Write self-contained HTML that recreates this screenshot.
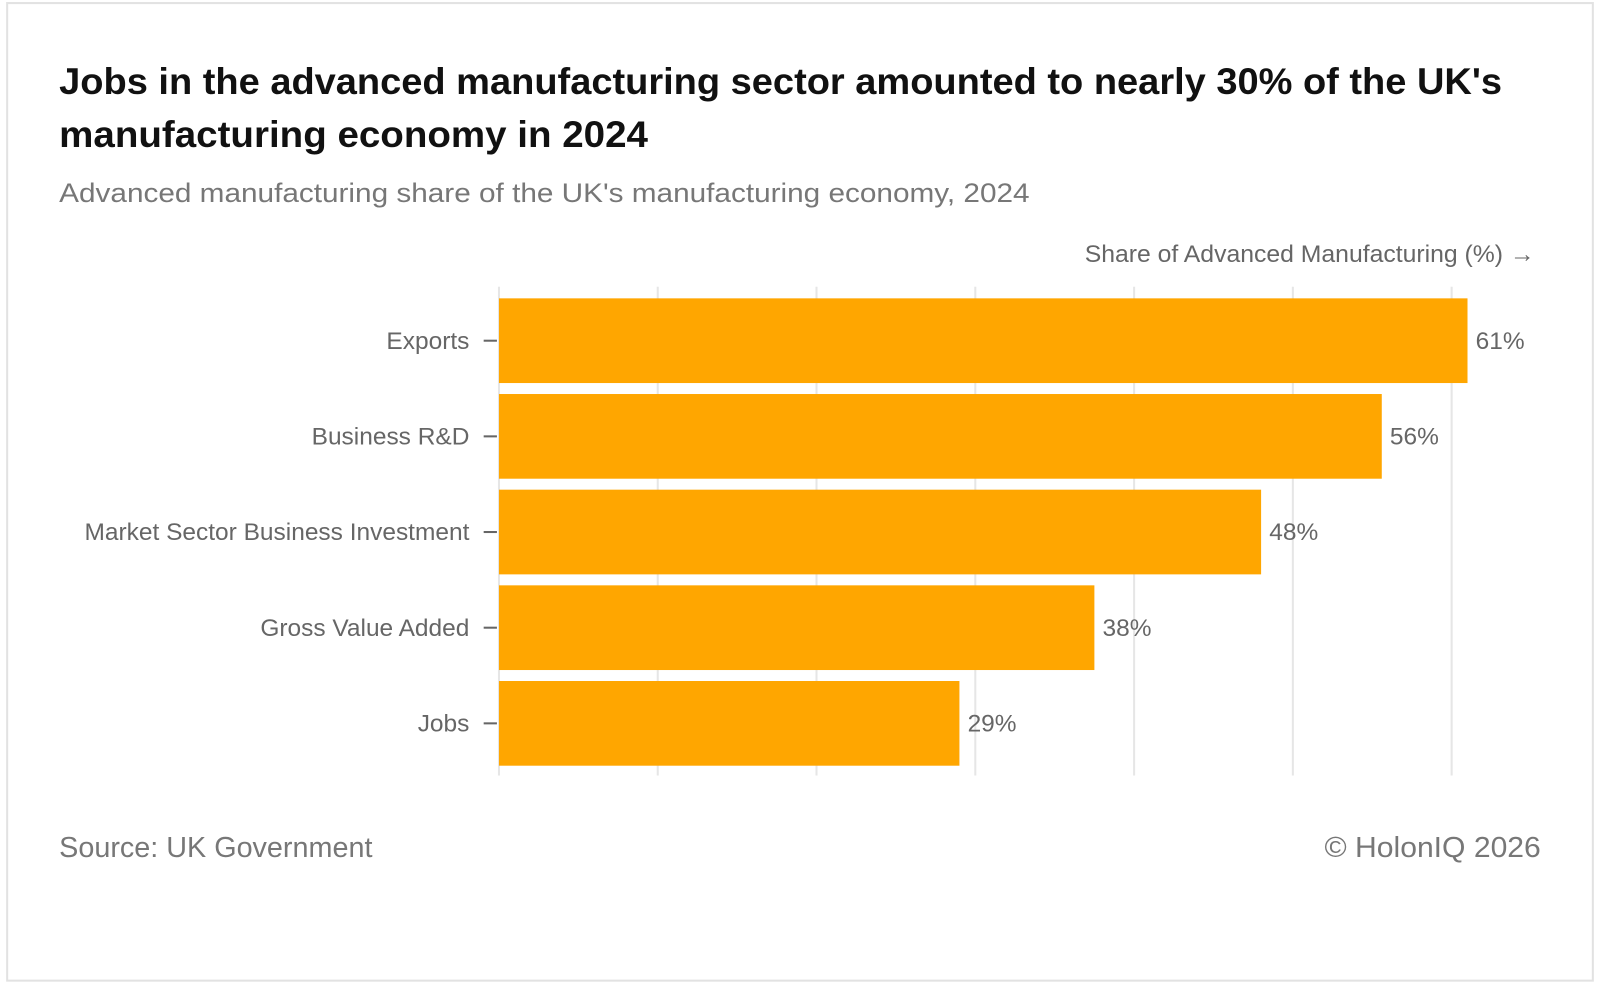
<!DOCTYPE html>
<html><head><meta charset="utf-8"><style>
html,body{margin:0;padding:0;background:#fff;}
svg{display:block;font-family:"Liberation Sans",sans-serif;}
</style></head><body>
<svg id="chart" width="1600" height="984" viewBox="0 0 1568 964.3" xmlns="http://www.w3.org/2000/svg">
<rect x="7" y="3" width="1554" height="958" fill="#fff" stroke="#e2e2e2" stroke-width="2"/>
<text x="58" y="92" font-size="36" font-weight="bold" fill="#111" textLength="1414" lengthAdjust="spacingAndGlyphs">Jobs in the advanced manufacturing sector amounted to nearly 30% of the UK's</text>
<text x="58" y="144" font-size="36" font-weight="bold" fill="#111" textLength="577" lengthAdjust="spacingAndGlyphs">manufacturing economy in 2024</text>
<text x="58" y="198" font-size="26" fill="#777" textLength="951" lengthAdjust="spacingAndGlyphs">Advanced manufacturing share of the UK's manufacturing economy, 2024</text>
<text x="1504" y="257" font-size="24" fill="#666" text-anchor="end" textLength="441" lengthAdjust="spacingAndGlyphs">Share of Advanced Manufacturing (%) →</text>
<g id="grid"></g>
<g id="bars"></g>
<text x="58" y="840" font-size="28" fill="#777" textLength="307" lengthAdjust="spacingAndGlyphs">Source: UK Government</text>
<text x="1510" y="840" font-size="28" fill="#777" text-anchor="end" textLength="212" lengthAdjust="spacingAndGlyphs">© HolonIQ 2026</text>
</svg>
<script>
const categories = ["Exports","Business R&D","Market Sector Business Investment","Gross Value Added","Jobs"];
const values = [61,55.6,48,37.5,29];
const valueLabels = ["61%","56%","48%","38%","29%"];
const gridTicks = [0,10,20,30,40,50,60];
const NS="http://www.w3.org/2000/svg";
const x0=489, pxPer=15.56, bandTop=287, step=93.75, barH=83;
function xs(v){return x0+v*pxPer;}
function ys(i){return bandTop+i*step+(step-barH)/2;}
function mk(tag,attrs,parent){const e=document.createElementNS(NS,tag);for(const k in attrs)e.setAttribute(k,attrs[k]);parent.appendChild(e);return e;}
const grid=document.getElementById('grid'), bars=document.getElementById('bars');
gridTicks.forEach(t=>{
  const l=mk('line',{x1:xs(t),x2:xs(t),y1:281,y2:760,stroke:'#e6e6e6','stroke-width':2},grid);
  
  
});
categories.forEach((c,i)=>{
  const y=ys(i), cy=y+barH/2;
  const r=mk('rect',{x:x0,y:y,width:xs(values[i])-x0,height:barH,fill:'#ffa600'},bars);
  
  
  const tk=mk('line',{x1:474,x2:487,y1:cy,y2:cy,stroke:'#666','stroke-width':2},bars);
  
  
  const lb=mk('text',{x:460,y:cy+8,'font-size':24,fill:'#666','text-anchor':'end'},bars);
  lb.textContent=c;
  
  
  const vl=mk('text',{x:xs(values[i])+8,y:cy+8,'font-size':24,fill:'#666'},bars);
  vl.textContent=valueLabels[i];
  
  
});
</script>
</body></html>
